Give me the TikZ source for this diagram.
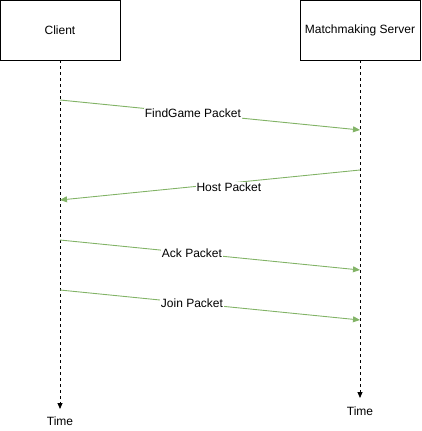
\documentclass[tikz,border=0pt]{standalone}
\usepackage{fontspec}
\setmainfont{Liberation Sans}
\usetikzlibrary{arrows.meta}
\definecolor{msggreen}{RGB}{130,179,102}
\begin{document}
\begin{tikzpicture}[x=1pt,y=-1pt,
  actor/.style={draw=black,fill=white,minimum width=120pt,minimum height=60pt,inner sep=0pt,font=\fontsize{12}{14}\selectfont,line width=0.8pt},
  life/.style={draw=black,dashed,dash pattern=on 3pt off 3pt,line width=0.8pt,-{Triangle[length=6pt,width=5pt]}},
  msg/.style={draw=msggreen,line width=0.9pt,-{Triangle[length=7pt,width=6pt]}},
  lbl/.style={fill=white,inner sep=1pt,font=\fontsize{12}{14}\selectfont},
  timelbl/.style={font=\fontsize{12}{14}\selectfont}]
\useasboundingbox (0,0) rectangle (421,431);
\node[actor] (client) at (60,30) {Client};
\node[actor] (server) at (360,30) {Matchmaking Server};
\coordinate (cend) at (60,409);
\coordinate (send) at (360,398);
\draw[life] (client.south) -- (cend);
\draw[life] (server.south) -- (send);
\node[timelbl] (ctime) at (60,421) {Time};
\node[timelbl] (stime) at (360,411) {Time};
\coordinate (c1) at (60,100);  \coordinate (s1) at (360,130);
\coordinate (s2) at (360,170); \coordinate (c2) at (60,200);
\coordinate (c3) at (60,240);  \coordinate (s3) at (360,270);
\coordinate (c4) at (60,290);  \coordinate (s4) at (360,320);
\draw[msg] (c1) -- node[lbl,pos=0.443] (l1) {FindGame Packet} (s1);
\draw[msg] (s2) -- node[lbl,pos=0.437,yshift=-4pt] (l2) {Host Packet} (c2);
\draw[msg] (c3) -- node[lbl,pos=0.44] (l3) {Ack Packet} (s3);
\draw[msg] (c4) -- node[lbl,pos=0.44] (l4) {Join Packet} (s4);
\end{tikzpicture}
\end{document}
